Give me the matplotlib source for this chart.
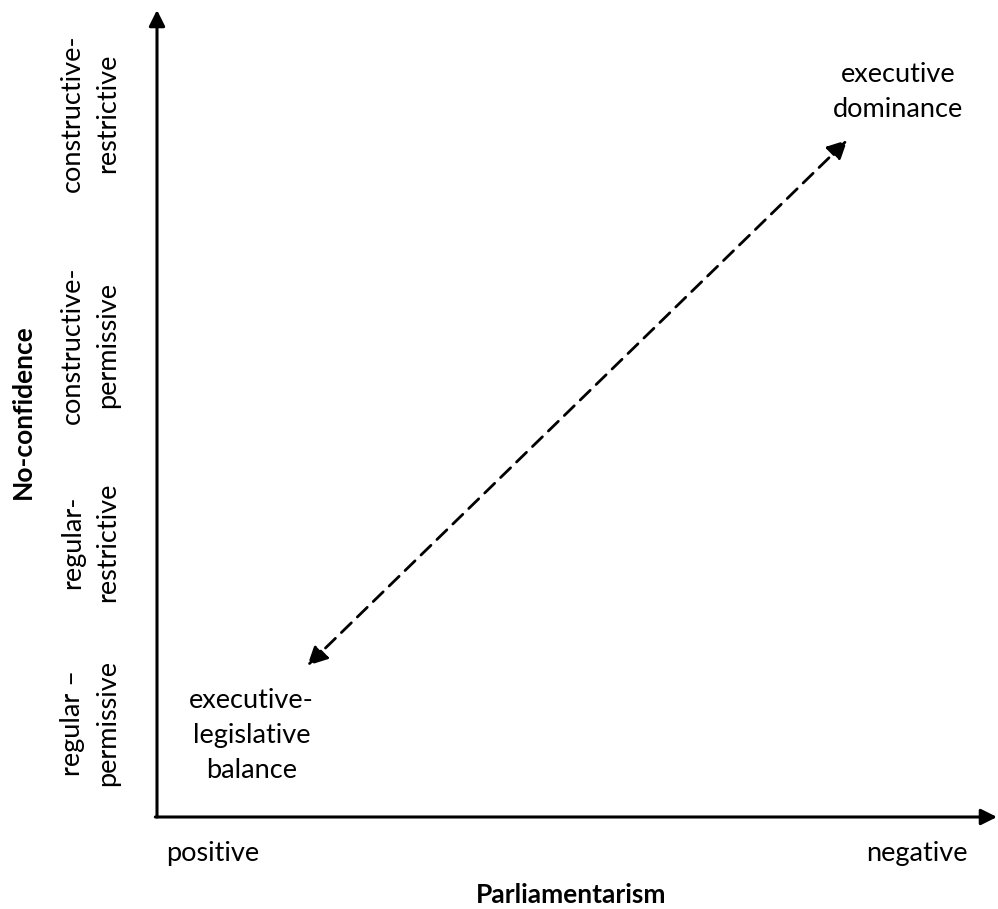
import matplotlib
matplotlib.use("Agg")
import matplotlib.pyplot as plt

plt.rcParams['font.family'] = ['Lato', 'DejaVu Sans']

# categories
y_labels = ["regular –\npermissive", "regular-\nrestrictive",
            "constructive-\npermissive", "constructive-\nrestrictive"]
y_pos = [0.433, 1.366, 2.381, 3.577]
x_labels = ["positive", "negative"]
x_pos = [0.0, 1.0]

# the two poles and the dashed link between them
pole_labels = ["executive-\nlegislative\nbalance", "executive\ndominance"]
pole_x = [0.055, 0.973]
pole_y = [0.37, 3.685]
link_start = (0.134, 0.73)
link_end = (0.901, 3.44)

FS = 19.5
FS_B = 19
LS = 1.5

fig = plt.figure(figsize=(9.98, 9.09), dpi=100)
ax = fig.add_axes([157 / 998, 1 - 817 / 909, 840 / 998, 807 / 909])
ax.set_xlim(-0.0795, 1.1136)
ax.set_ylim(-0.05, 4.11)
for s in ax.spines.values():
    s.set_visible(False)
ax.set_xticks([])
ax.set_yticks([])

# axes as arrows
ax.annotate("", xy=(0, 1.0), xytext=(0, 0), xycoords='axes fraction',
            arrowprops=dict(arrowstyle='-|>', lw=2.2, color='black',
                            mutation_scale=24, shrinkA=0, shrinkB=0))
ax.annotate("", xy=(1.0, 0), xytext=(-0.002, 0), xycoords='axes fraction',
            arrowprops=dict(arrowstyle='-|>', lw=2.2, color='black',
                            mutation_scale=24, shrinkA=0, shrinkB=0))

# y category labels (rotated, two lines)
for lab, yp in zip(y_labels, y_pos):
    ax.text(-0.175, yp, lab, rotation=90, ha='center', va='center',
            multialignment='center', fontsize=FS, linespacing=LS,
            clip_on=False)

# x category labels
for lab, xp in zip(x_labels, x_pos):
    ax.text(xp, -0.24, lab, ha='center', va='center', fontsize=FS,
            clip_on=False)

ax.text(571 / 998, 1 - 895 / 909, "Parliamentarism", transform=fig.transFigure,
        ha='center', va='center', fontsize=FS_B, fontweight='bold')
ax.text(23 / 998, 1 - 412 / 909, "No-confidence", transform=fig.transFigure,
        rotation=90, ha='center', va='center', fontsize=FS_B, fontweight='bold')

for lab, xp, yp in zip(pole_labels, pole_x, pole_y):
    ax.text(xp, yp, lab, ha='center', va='center', multialignment='center',
            fontsize=FS, linespacing=LS)

ax.annotate("", xy=link_end, xytext=link_start,
            arrowprops=dict(arrowstyle='<|-|>', lw=2, color='black',
                            linestyle=(0, (5, 3)), mutation_scale=30,
                            shrinkA=0, shrinkB=0))

fig.savefig("out.png", dpi=100)
